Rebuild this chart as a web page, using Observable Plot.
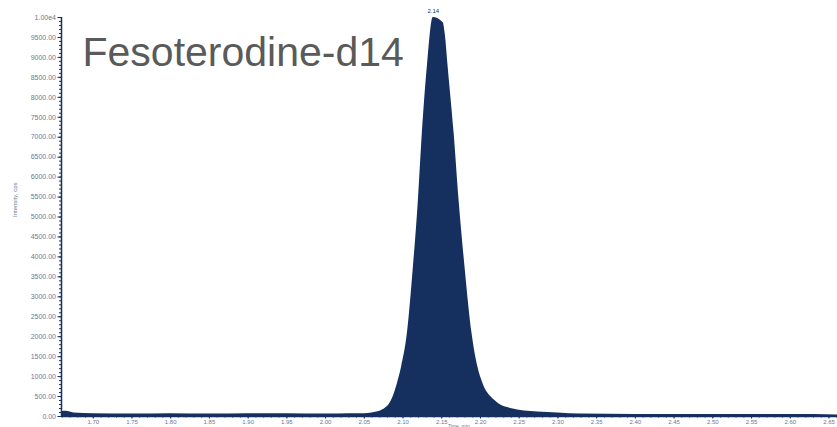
<!DOCTYPE html>
<html><head><meta charset="utf-8">
<script src="https://cdn.jsdelivr.net/npm/d3@7"></script>
<script src="https://cdn.jsdelivr.net/npm/@observablehq/plot@0.6"></script>
<style>body{margin:0;background:#fff;overflow:hidden}</style>
</head><body><div id="chart"></div>
<script>
const title = "Fesoterodine-d14";
const xLabel = "Time, min";
const yLabel = "Intensity, cps";
const peakLabel = "2.14";

const time = [1.659, 1.665, 1.675, 1.70, 1.75, 1.80, 1.85, 1.90, 1.95, 2.00, 2.03, 2.05, 2.06, 2.0723, 2.0851, 2.0928, 2.0980, 2.1056, 2.1133, 2.1198, 2.1249, 2.1313, 2.139, 2.1519, 2.1544, 2.1583, 2.1660, 2.1724, 2.1801, 2.1891, 2.1968, 2.2032, 2.2186, 2.2392, 2.274, 2.30, 2.33, 2.40, 2.50, 2.60, 2.661];
const intensity = [120, 130, 90, 70, 60, 70, 60, 70, 70, 60, 70, 70, 90, 150, 400, 830, 1230, 2080, 3730, 5410, 7090, 8750, 10000, 9870, 9600, 8750, 7090, 5410, 3730, 2080, 1230, 830, 400, 200, 110, 90, 60, 50, 50, 50, 40];

const xTicks = [1.70, 1.75, 1.80, 1.85, 1.90, 1.95, 2.00, 2.05, 2.10, 2.15, 2.20, 2.25, 2.30, 2.35, 2.40, 2.45, 2.50, 2.55, 2.60, 2.65];
const xTickLabels = ["1.70", "1.75", "1.80", "1.85", "1.90", "1.95", "2.00", "2.05", "2.10", "2.15", "2.20", "2.25", "2.30", "2.35", "2.40", "2.45", "2.50", "2.55", "2.60", "2.65"];
const yTicks = [0, 500, 1000, 1500, 2000, 2500, 3000, 3500, 4000, 4500, 5000, 5500, 6000, 6500, 7000, 7500, 8000, 8500, 9000, 9500, 10000];
const yTickLabels = ["0.00", "500.00", "1000.00", "1500.00", "2000.00", "2500.00", "3000.00", "3500.00", "4000.00", "4500.00", "5000.00", "5500.00", "6000.00", "6500.00", "7000.00", "7500.00", "8000.00", "8500.00", "9000.00", "9500.00", "1.00e4"];

const xDomain = [1.659, 2.661];
const yDomain = [0, 10000];

const data = time.map((t, i) => ({time: t, intensity: intensity[i]}));
const peak = data.reduce((a, b) => (b.intensity > a.intensity ? b : a));
const xLab = new Map(xTicks.map((v, i) => [v, xTickLabels[i]]));
const yLab = new Map(yTicks.map((v, i) => [v, yTickLabels[i]]));
const yMinor = d3.range(0, 10001, 100);
const xMinor = d3.range(166, 267).map(v => v / 100);

const navy = "#15305f";
const tickText = "#6a7896";

const chart = Plot.plot({
  width: 837,
  height: 427,
  marginLeft: 61,
  marginRight: 0,
  marginTop: 17,
  marginBottom: 11,
  style: {fontFamily: "Liberation Sans, Arial, sans-serif", background: "#fff", overflow: "visible"},
  x: {domain: xDomain},
  y: {domain: yDomain},
  marks: [
    Plot.areaY(data, {x: "time", y: "intensity", fill: navy, curve: "monotone-x"}),
    Plot.axisY(yMinor, {tickSize: 2, text: null, stroke: navy, label: null}),
    Plot.axisY(yTicks, {tickSize: 3.5, tickPadding: 2, tickFormat: d => yLab.get(d), fontSize: 7, fill: tickText, stroke: navy, label: null}),
    Plot.axisX(xMinor, {tickSize: 1.5, text: null, stroke: navy, label: null}),
    Plot.axisX(xTicks, {tickSize: 2.5, tickPadding: 0.5, tickFormat: d => xLab.get(d), fontSize: 6, fill: tickText, stroke: navy, label: null}),
    Plot.ruleX([xDomain[0]], {stroke: navy, strokeWidth: 1.5}),
    Plot.ruleY([0], {stroke: navy, strokeWidth: 1.5}),
    Plot.text([peak], {x: "time", y: "intensity", text: () => peakLabel, dy: -6, fontSize: 6, fill: navy}),
    Plot.text([title], {frameAnchor: "top-left", dx: 21, dy: 35, lineAnchor: "middle", textAnchor: "start", fontSize: 41, fill: "#5a5a5a", fontFamily: "Liberation Sans, Arial, sans-serif"}),
    Plot.text([yLabel], {frameAnchor: "left", dx: -46, rotate: -90, fontSize: 6, fill: tickText}),
    Plot.text([xLabel], {frameAnchor: "bottom", x: () => 2.172, dy: 11, lineAnchor: "bottom", fontSize: 5, fill: tickText})
  ]
});
document.getElementById("chart").appendChild(chart);
</script>
</body></html>
